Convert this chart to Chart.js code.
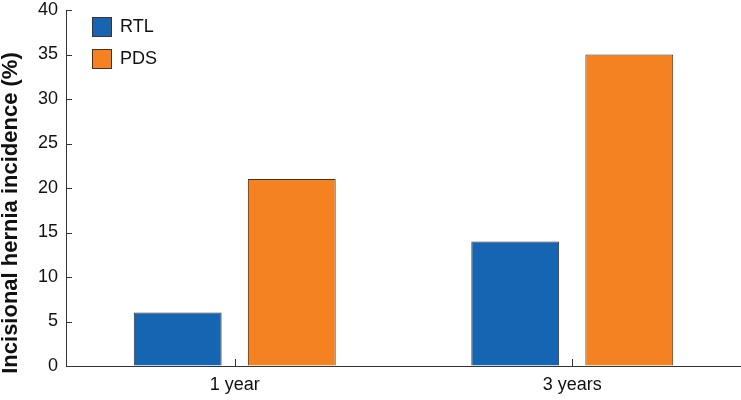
<!DOCTYPE html>
<html lang="en">
<head>
  <meta charset="UTF-8" />
  <title>Incisional hernia incidence</title>
  <script src="https://cdn.jsdelivr.net/npm/chart.js"></script>
  <style>
    html, body { margin: 0; padding: 0; background: #fff; }
    #wrap { width: 741px; height: 400px; }
  </style>
</head>
<body>
  <div id="wrap"><canvas id="herniaChart"></canvas></div>

  <script>
    const categories = ['1 year', '3 years'];
    const seriesNames = ['RTL', 'PDS'];
    const rtlValues = [6, 14];
    const pdsValues = [21, 35];
    const yTicks = [0, 5, 10, 15, 20, 25, 30, 35, 40];
    const yTitle = 'Incisional hernia incidence (%)';

    const FONT = '"Liberation Sans", Arial, Helvetica, sans-serif';
    const AXIS = '#333333';
    const EDGE = '#4a3020';

    // inward tick marks, y title and legend are drawn by hand
    const decorations = {
      id: 'decorations',
      afterDraw(chart) {
        const ctx = chart.ctx;
        const x = chart.scales.x, y = chart.scales.y;
        const area = chart.chartArea;
        ctx.save();
        ctx.strokeStyle = AXIS;
        ctx.lineWidth = 1;
        ctx.beginPath();
        yTicks.forEach(v => {
          const py = Math.round(y.getPixelForValue(v)) + 0.5;
          ctx.moveTo(area.left, py);
          ctx.lineTo(area.left + 6, py);
        });
        categories.forEach((c, i) => {
          const px = Math.round(x.getPixelForValue(i)) + 0.5;
          ctx.moveTo(px, area.bottom);
          ctx.lineTo(px, area.bottom - 7);
        });
        ctx.stroke();

        // axis title
        ctx.save();
        ctx.translate(11, 213);
        ctx.rotate(-Math.PI / 2);
        ctx.font = 'bold 22px ' + FONT;
        ctx.textAlign = 'center';
        ctx.textBaseline = 'middle';
        ctx.fillStyle = '#111';
        ctx.fillText(yTitle, 0, 0);
        ctx.restore();

        // legend
        ctx.font = '18px ' + FONT;
        ctx.textBaseline = 'middle';
        chart.data.datasets.forEach((ds, i) => {
          const bx = 92.5, by = 17.5 + i * 32;
          ctx.fillStyle = ds.backgroundColor;
          ctx.fillRect(bx, by, 19, 19);
          ctx.strokeStyle = EDGE;
          ctx.strokeRect(bx, by, 19, 19);
          ctx.fillStyle = '#111';
          ctx.fillText(ds.label, 120, by + 10);
        });
        ctx.restore();
      }
    };

    new Chart(document.getElementById('herniaChart'), {
      type: 'bar',
      data: {
        labels: categories,
        datasets: [
          {
            label: seriesNames[0],
            data: rtlValues,
            backgroundColor: '#1565b2',
            borderColor: EDGE,
            borderWidth: 1
          },
          {
            label: seriesNames[1],
            data: pdsValues,
            backgroundColor: '#f58220',
            borderColor: EDGE,
            borderWidth: 1
          }
        ]
      },
      options: {
        responsive: true,
        maintainAspectRatio: false,
        animation: false,
        categoryPercentage: 0.676,
        barPercentage: 0.77,
        layout: { padding: 0 },
        plugins: {
          legend: { display: false },
          tooltip: { enabled: false }
        },
        scales: {
          x: {
            grid: { display: true, drawOnChartArea: false, drawTicks: false },
            border: { display: true, color: AXIS, width: 1 },
            ticks: { color: '#111', padding: 8, font: { family: FONT, size: 18 } },
            afterFit(scale) { scale.height = 34; }
          },
          y: {
            min: 0,
            max: 40,
            afterBuildTicks(scale) { scale.ticks = yTicks.map(v => ({ value: v })); },
            grid: { display: true, drawOnChartArea: false, drawTicks: false },
            border: { display: true, color: AXIS, width: 1 },
            ticks: { color: '#111', padding: 8, font: { family: FONT, size: 18 } },
            afterFit(scale) { scale.width = 66; scale.paddingTop = 10; }
          }
        }
      },
      plugins: [decorations]
    });
  </script>
</body>
</html>
